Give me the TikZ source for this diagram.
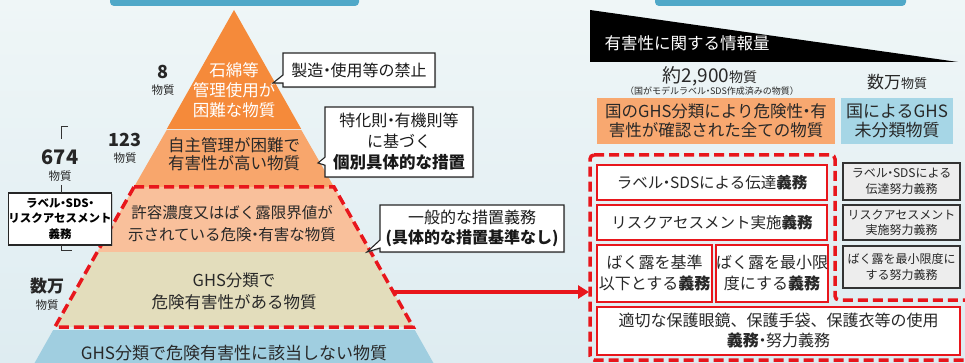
\documentclass[tikz,border=0pt]{standalone}
\usepackage{fontspec}
\setmainfont{Noto Sans CJK JP}
\usetikzlibrary{shapes.callouts,arrows.meta,shadows}
\definecolor{bgA}{RGB}{239,246,247}
\definecolor{bgB}{RGB}{222,236,241}
\definecolor{layA}{RGB}{245,138,58}
\definecolor{layB}{RGB}{248,166,108}
\definecolor{layC}{RGB}{249,192,155}
\definecolor{layD}{RGB}{227,221,188}
\definecolor{layE}{RGB}{160,206,224}
\definecolor{redD}{RGB}{232,22,28}
\definecolor{txt}{RGB}{40,40,40}
\definecolor{boxO}{RGB}{248,168,112}
\definecolor{boxB}{RGB}{166,214,230}
\definecolor{grayF}{RGB}{237,237,237}
\definecolor{tealT}{RGB}{80,168,200}
\newcommand\fsz[2]{\fontsize{#1}{#2}\selectfont}
\newcommand\nkg{{\kern-0.28em・\kern-0.28em}}
\begin{document}
\begin{tikzpicture}[x=1pt,y=-1pt,
  reddash/.style={draw=redD, line width=3.5pt, dash pattern=on 10pt off 5pt},
  lay/.style={text=txt, align=center, inner sep=0pt},
  num/.style={font=\bfseries\fsz{18}{20}, text=black!85, inner sep=0pt},
  unit/.style={font=\fsz{11.5}{13}, text=txt, inner sep=0pt},
  callbox/.style={rectangle callout, draw=black!85, line width=1.1pt, fill=white, align=center, inner sep=0pt, text=black!90, callout pointer width=8pt, drop shadow={shadow xshift=1.2pt, shadow yshift=-1.2pt, opacity=0.35}},
  redbox/.style={draw=redD, line width=1.2pt, fill=white, align=center, inner sep=0pt, text=txt},
  graybox/.style={draw=black!80, line width=1.2pt, fill=grayF, align=center, inner sep=0pt, text=txt, font=\fsz{12}{15.5}, minimum width=117pt},
  bracket/.style={draw=black!80, line width=0.8pt}
]
\useasboundingbox (0,0) rectangle (965,363);
\shade[top color=bgA, bottom color=bgB] (0,0) rectangle (965,363);
% top teal boxes (cut off)
\fill[tealT, rounded corners=4pt] (110,-15) rectangle (359,6);
\fill[tealT, rounded corners=4pt] (655,-15) rectangle (906,6);
% pyramid layers
\fill[layA] (234,10) -- (301.2,129) -- (166.8,129) -- cycle;
\fill[layB] (166.8,129.8) -- (301.2,129.8) -- (334,187) -- (134,187) -- cycle;
\fill[layC] (134,187) -- (334,187) -- (370.7,252) -- (97.3,252) -- cycle;
\fill[layD] (97.3,252) -- (370.7,252) -- (413.1,327) -- (54.9,327) -- cycle;
\fill[layE] (53.2,330) -- (414.8,330) -- (440.2,375) -- (27.8,375) -- cycle;
\draw[reddash] (134,187) -- (334,187) -- (413.1,327) -- (54.9,327) -- cycle;
% pyramid texts
\node[lay, text=white, font=\fsz{16.5}{20}] (t1) at (234,90) {石綿等\\管理使用が\\困難な物質};
\node[lay, font=\fsz{16.5}{18.5}] (t2) at (234,154) {自主管理が困難で\\有害性が高い物質};
\node[lay, font=\fsz{15.5}{22}] (t3) at (232,224) {許容濃度又はばく露限界値が\\示されている危険\nkg 有害な物質};
\node[lay, font=\fsz{16.5}{22}] (t4) at (234,291) {GHS分類で\\危険有害性がある物質};
\node[lay, font=\fsz{17}{20}] (t5) at (234,353) {GHS分類で危険有害性に該当しない物質};
% left numbers
\node[num] (n8) at (163,72) {8};
\node[unit] (n8u) at (163,90) {物質};
\node[num] (n123) at (125,140) {123};
\node[unit] (n123u) at (125,158) {物質};
\node[num, font=\bfseries\fsz{20}{22}] (n674) at (60,157) {674};
\node[unit] (n674u) at (60,176) {物質};
\node[num, font=\bfseries\fsz{17}{20}] (nman) at (47,286) {数万};
\node[unit] (nmanu) at (47,305) {物質};
\node[draw=black!85, line width=1.1pt, fill=white, align=center, inner sep=0pt, minimum width=100pt, minimum height=52pt, font=\bfseries\fsz{11.5}{15.5}, drop shadow={shadow xshift=1.2pt, shadow yshift=-1.2pt, opacity=0.35}] (lb) at (60,219) {ラベル\nkg SDS\nkg\\リスクアセスメント\\義務};
\draw[bracket] (68,126) -- (61,126) -- (61,139);
\draw[bracket] (61,185) -- (61,193);
\draw[bracket] (61,245) -- (61,250) -- (72,250);
% callouts
\node[callbox, minimum width=152pt, minimum height=34pt, font=\fsz{16}{18}, callout absolute pointer={(273,83)}] (c1) at (359,70) {製造\nkg 使用等の禁止};
\node[callbox, minimum width=148pt, minimum height=70pt, font=\fsz{16}{21}, callout absolute pointer={(318,163)}] (c2) at (399,142) {特化則\nkg 有機則等\\に基づく\\{\bfseries\fsz{16.5}{21}個別具体的な措置}};
\node[callbox, minimum width=184pt, minimum height=47pt, font=\fsz{16}{20}, callout absolute pointer={(367,252)}] (c3) at (472,228.5) {一般的な措置義務\\{\bfseries (具体的な措置基準なし)}};
% black wedge
\fill[black] (590,10) -- (590,62) -- (958,62) -- cycle;
\node[text=white, font=\fsz{16.5}{18}, inner sep=0pt] (wedge) at (687,43) {有害性に関する情報量};
% right headers
\node[text=txt, inner sep=0pt] (h1) at (710,76) {{\fsz{19}{20}約2,900}{\fsz{14}{16}物質}};
\node[text=txt, inner sep=0pt, font=\fsz{9}{10}] (h1s) at (712,91) {（国がモデルラベル\nkg SDS作成済みの物質）};
\node[text=txt, inner sep=0pt] (h2) at (897,82) {{\fsz{17}{18}数万}{\fsz{13}{14}物質}};
\node[fill=boxO, text=txt, align=center, inner sep=0pt, minimum width=238pt, minimum height=46pt, font=\fsz{16.5}{19}] (ob) at (716,121) {国のGHS分類により危険性\nkg 有\\害性が確認された全ての物質};
\node[fill=boxB, text=txt, align=center, inner sep=0pt, minimum width=112pt, minimum height=46pt, font=\fsz{17}{19}] (bb) at (897,121) {国によるGHS\\未分類物質};
% red dashed region
\draw[reddash, rounded corners=4pt] (590,155) -- (835,155) -- (835,300) -- (980,300) -- (980,360) -- (590,360) -- cycle;
% inner red boxes
\node[redbox, minimum width=230pt, minimum height=35pt, font=\fsz{15.5}{18}] (b1) at (712,182.5) {ラベル\nkg SDSによる伝達\textbf{義務}};
\node[redbox, minimum width=230pt, minimum height=35pt, font=\fsz{15.5}{18}] (b2) at (712,222.5) {リスクアセスメント実施\textbf{義務}};
\node[redbox, minimum width=115pt, minimum height=57pt, font=\fsz{16}{21}] (b3) at (654.5,273.5) {ばく露を基準\\以下とする\textbf{義務}};
\node[redbox, minimum width=110pt, minimum height=57pt, font=\fsz{16}{21}] (b4) at (772,273.5) {ばく露を最小限\\度にする\textbf{義務}};
\node[redbox, minimum width=363pt, minimum height=48pt, font=\fsz{16}{20}] (b5) at (778.5,331) {適切な保護眼鏡、保護手袋、保護衣等の使用\\\textbf{義務}\nkg 努力義務};
% gray boxes
\node[graybox, minimum height=37pt] (g1) at (901.5,181.5) {ラベル\nkg SDSによる\\伝達努力義務};
\node[graybox, minimum height=35pt] (g2) at (901.5,222.5) {リスクアセスメント\\実施努力義務};
\node[graybox, minimum height=42pt] (g3) at (901.5,267) {ばく露を最小限度に\\する努力義務};
% red arrow
\coordinate (arrS) at (393.3,292);
\coordinate (arrE) at (589,292);
\draw[draw=redD, line width=3.5pt, -{Triangle[length=11pt,width=13pt]}] (arrS) -- (arrE);
\end{tikzpicture}
\end{document}
